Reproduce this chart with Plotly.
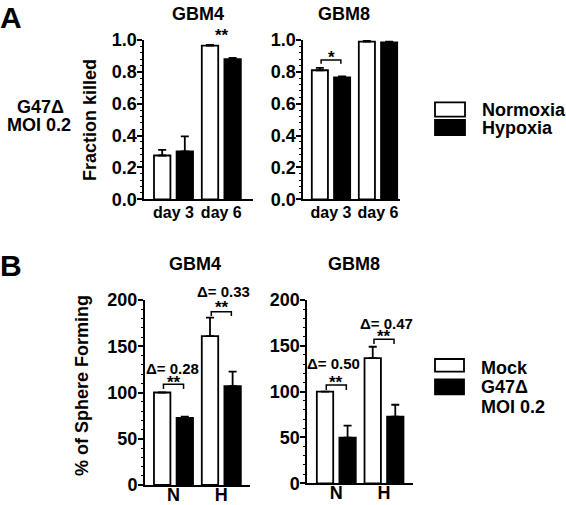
import plotly.graph_objects as go

# ---------------- data ----------------
days = ["day 3", "day 6"]
conds = ["N", "H"]

a_gbm4_norm = [0.275, 0.965]
a_gbm4_norm_err = [0.035, 0.005]
a_gbm4_hyp = [0.30, 0.88]
a_gbm4_hyp_err = [0.095, 0.008]

a_gbm8_norm = [0.81, 0.99]
a_gbm8_norm_err = [0.015, 0.004]
a_gbm8_hyp = [0.765, 0.985]
a_gbm8_hyp_err = [0.006, 0.004]

b_gbm4_mock = [100, 161]
b_gbm4_mock_err = [0, 20]
b_gbm4_g47 = [72.5, 107]
b_gbm4_g47_err = [1.5, 15.5]

b_gbm8_mock = [100, 136.5]
b_gbm8_mock_err = [0, 12.5]
b_gbm8_g47 = [49.7, 72.7]
b_gbm8_g47_err = [13.3, 13]

W, H = 566, 505
FONT = "Liberation Sans"


def px_x(p):
    return p / W


def px_y(p):
    return 1 - p / H


fig = go.Figure()

# subplot definitions: (xaxis id, yaxis id, x px domain, y px domain, xrange, yrange)
subplots = [
    ("x", "y", (144.3, 253), (40, 199.3), (-0.611, 1.663), (0, 1.0)),
    ("x2", "y2", (303.3, 400), (40, 199.3), (-0.589, 1.468), (0, 1.0)),
    ("x3", "y3", (145, 250), (300, 485), (-0.596, 1.6), (0, 200)),
    ("x4", "y4", (307.3, 413), (300, 483.3), (-0.608, 1.608), (0, 200)),
]

series = [
    (a_gbm4_norm, a_gbm4_norm_err, a_gbm4_hyp, a_gbm4_hyp_err),
    (a_gbm8_norm, a_gbm8_norm_err, a_gbm8_hyp, a_gbm8_hyp_err),
    (b_gbm4_mock, b_gbm4_mock_err, b_gbm4_g47, b_gbm4_g47_err),
    (b_gbm8_mock, b_gbm8_mock_err, b_gbm8_g47, b_gbm8_g47_err),
]

pos = [0, 1]
for (xa, ya, *_), (v1, e1, v2, e2) in zip(subplots, series):
    for vals, errs, fill, og in ((v1, e1, "white", "a"), (v2, e2, "black", "b")):
        fig.add_trace(go.Bar(
            x=pos, y=vals, xaxis=xa, yaxis=ya, offsetgroup=og,
            marker=dict(color=fill, line=dict(color="black", width=1.8)),
            error_y=dict(type="data", symmetric=False, array=errs,
                         arrayminus=[0] * len(errs), color="black",
                         thickness=1.8, width=4),
            showlegend=False, hoverinfo="skip",
        ))

layout = dict(
    width=W, height=H, margin=dict(l=0, r=0, t=0, b=0, pad=0),
    autosize=False,
    paper_bgcolor="white", plot_bgcolor="white",
    barmode="group", bargap=0.054, bargroupgap=0.274,
    font=dict(family=FONT, color="black"),
    showlegend=False,
)

for i, (xa, ya, xd, yd, xr, yr) in enumerate(subplots):
    xkey = "xaxis" + ("" if xa == "x" else xa[1:])
    ykey = "yaxis" + ("" if ya == "y" else ya[1:])
    ticktext = days if i < 2 else conds
    layout[xkey] = dict(
        domain=[px_x(xd[0]), px_x(xd[1])], anchor=ya, range=list(xr),
        tickvals=pos, ticktext=ticktext, showline=True, linecolor="black",
        linewidth=2, ticks="", showgrid=False, zeroline=False,
        automargin=False,
        ticklabelstandoff=-3 if i < 2 else -8,
        tickfont=dict(family=FONT, size=16 if i < 2 else 18, weight="bold"),
        fixedrange=True,
    )
    if i < 2:
        yopts = dict(dtick=0.2, tickformat=".1f",
                     minor=dict(ticks="outside", ticklen=2, dtick=0.04,
                                tickcolor="black", tickwidth=1))
    else:
        yopts = dict(dtick=50,
                     minor=dict(ticks="outside", ticklen=2, dtick=10,
                                tickcolor="black", tickwidth=1))
    layout[ykey] = dict(
        domain=[px_y(yd[1]), px_y(yd[0])], anchor=xa, range=list(yr),
        showline=True, automargin=False,
        linecolor="black", linewidth=2, ticks="outside", ticklen=5,
        tickwidth=2, tickcolor="black", showgrid=False, zeroline=False,
        ticklabelstandoff=-3,
        tickfont=dict(family=FONT, size=18, weight="bold"),
        fixedrange=True, **yopts,
    )

fig.update_layout(**layout)

# ---------------- significance brackets (data units) ----------------
# (xaxis, yaxis, category index, bracket y, leg bottom y)
brackets = [
    ("x", "y", 1, 1.027, 1.0),
    ("x2", "y2", 0, 0.874, 0.851),
    ("x3", "y3", 0, 108.9, 103.8),
    ("x3", "y3", 1, 187.4, 182.7),
    ("x4", "y4", 0, 107.3, 101.8),
    ("x4", "y4", 1, 157.1, 152.0),
]
half = 0.21
for xa, ya, c, by, leg in brackets:
    fig.add_trace(go.Scatter(
        x=[c - half, c - half, c + half, c + half],
        y=[leg, by, by, leg],
        xaxis=xa, yaxis=ya, mode="lines",
        line=dict(color="black", width=1.5), cliponaxis=False,
        showlegend=False, hoverinfo="skip",
    ))

annots = []


def paper_text(text, x, y, size, xanchor="center", angle=0, align="center"):
    annots.append(dict(x=px_x(x), y=px_y(y), xref="paper", yref="paper",
                       text=text, showarrow=False, xanchor=xanchor,
                       yanchor="middle", textangle=angle, align=align,
                       borderpad=0,
                       font=dict(size=size, weight="bold")))


# significance stars (glyph sits high in the box, so box centre is lower)
paper_text("**", 221.5, 35.5, 17)
paper_text("*", 331, 58, 17)
paper_text("**", 173.5, 382.5, 17)
paper_text("**", 221.5, 307.5, 17)
paper_text("**", 336, 382, 17)
paper_text("**", 383.5, 336.5, 17)
# delta labels
paper_text("Δ= 0.28", 172.5, 368.5, 15)
paper_text("Δ= 0.33", 223, 291.5, 15)
paper_text("Δ= 0.50", 333, 363, 15)
paper_text("Δ= 0.47", 386, 323, 15)

# panel letters and titles
paper_text("A", 11, 17, 30)
paper_text("B", 11, 265, 30)
paper_text("GBM4", 198, 13.5, 18)
paper_text("GBM8", 344, 13.5, 18)
paper_text("GBM4", 195, 263.5, 18)
paper_text("GBM8", 354, 264, 18)
paper_text("G47Δ", 40, 107, 18)
paper_text("MOI 0.2", 39, 125, 18)
paper_text("Fraction killed", 90, 120, 18, angle=-90)
paper_text("% of Sphere Forming", 82, 386, 18, angle=-90)

# legends (manual swatches)
shapes = []


def swatch(x0, y0, x1, y1, fill):
    shapes.append(dict(type="rect", xref="paper", yref="paper",
                       x0=px_x(x0), x1=px_x(x1), y0=px_y(y1), y1=px_y(y0),
                       fillcolor=fill, line=dict(color="black", width=1.8)))


swatch(435, 102.3, 465, 116.7, "white")
swatch(435, 120, 465, 135, "black")
paper_text("Normoxia", 481, 110, 18, xanchor="left")
paper_text("Hypoxia", 481, 128, 18, xanchor="left")

swatch(435, 359, 464, 371.7, "white")
swatch(435, 379.3, 464, 394.3, "black")
paper_text("Mock", 480, 367.7, 18, xanchor="left")
paper_text("G47Δ", 480, 387, 18, xanchor="left")
paper_text("MOI 0.2", 480, 407, 18, xanchor="left")

fig.update_layout(annotations=annots, shapes=shapes)

fig.write_html("out.html",
               config={"displayModeBar": False, "staticPlot": True},
               post_script="document.body.style.margin='0';"
                           "document.body.style.overflow='hidden';")
